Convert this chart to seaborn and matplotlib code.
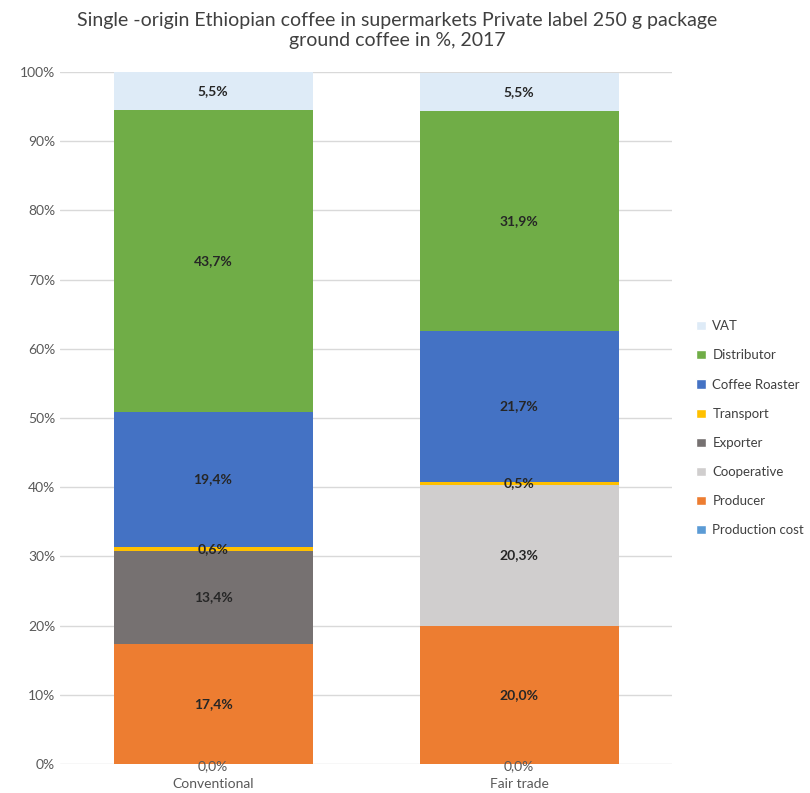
import numpy as np
import pandas as pd
import seaborn as sns
import matplotlib.pyplot as plt
from matplotlib.patches import Patch

# Data (share of retail price, %)
categories = ['Conventional', 'Fair trade']
layers = ['Production cost', 'Producer', 'Cooperative', 'Exporter',
          'Transport', 'Coffee Roaster', 'Distributor', 'VAT']
production_cost = [0.0, 0.0]
producer = [17.4, 20.0]
cooperative = [0.0, 20.3]
exporter = [13.4, 0.0]
transport = [0.6, 0.5]
coffee_roaster = [19.4, 21.7]
distributor = [43.7, 31.9]
vat = [5.5, 5.5]

colors = ['#5B9BD5', '#ED7D31', '#D0CECE', '#767171',
          '#FFC000', '#4472C4', '#70AD47', '#DEEBF7']

df = pd.DataFrame({
    'category': categories,
    'Production cost': production_cost,
    'Producer': producer,
    'Cooperative': cooperative,
    'Exporter': exporter,
    'Transport': transport,
    'Coffee Roaster': coffee_roaster,
    'Distributor': distributor,
    'VAT': vat,
})

sns.set_style('white')
plt.rcParams['font.family'] = ['Lato', 'DejaVu Sans']

fig = plt.figure(figsize=(8.1, 7.93), dpi=100)
ax = fig.add_axes([0.074, 0.0366, 0.756, 0.8726])

bottom = np.zeros(len(categories))
for layer, col in zip(layers, colors):
    vals = df[layer].to_numpy()
    sns.barplot(x=df['category'], y=vals, bottom=bottom, color=col,
                saturation=1, width=0.65, ax=ax, zorder=2, linewidth=0)
    for i, v in enumerate(vals):
        if layer == 'Production cost':
            ax.text(i, bottom[i] - 0.3, f'{v:.1f}%'.replace('.', ','),
                    ha='center', va='center', fontsize=10, color='#595959')
        elif v > 0:
            ax.text(i, bottom[i] + v / 2, f'{v:.1f}%'.replace('.', ','),
                    ha='center', va='center', fontsize=10, fontweight='bold',
                    color='#262626')
    bottom += vals

ax.set_xlim(-0.5, 1.5)
ax.set_ylim(0, 100)
ax.set_yticks(np.arange(0, 101, 10))
ax.set_yticklabels([f'{t}%' for t in range(0, 101, 10)])
ax.yaxis.grid(True, color='#D9D9D9', linewidth=1, zorder=0)
ax.set_axisbelow(True)
ax.tick_params(axis='both', length=0, labelsize=10, labelcolor='#595959')
ax.tick_params(axis='x', pad=10)
ax.set_xlabel('')
ax.set_ylabel('')
for s in ax.spines.values():
    s.set_visible(False)

handles = [Patch(facecolor=c, label=l) for l, c in zip(layers, colors)][::-1]
leg = ax.legend(handles=handles, loc='center left', bbox_to_anchor=(1.02, 0.485),
                frameon=False, fontsize=9.5, handlelength=0.7, handleheight=0.7,
                labelspacing=1.3, handletextpad=0.5, labelcolor='#404040')

fig.suptitle('Single -origin Ethiopian coffee in supermarkets Private label 250 g package\n'
             'ground coffee in %, 2017', x=0.49, y=0.985, fontsize=14,
             color='#404040', linespacing=1.25)

fig.savefig('out.png', dpi=100)
